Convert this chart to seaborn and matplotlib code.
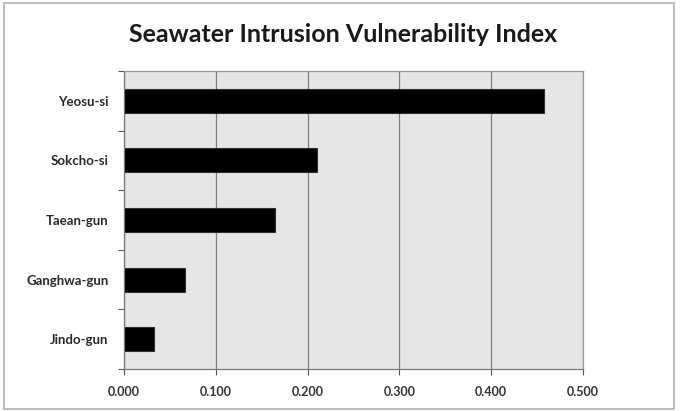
import matplotlib
matplotlib.use("Agg")
import matplotlib.pyplot as plt
import seaborn as sns
import pandas as pd
import numpy as np
from matplotlib.patches import Rectangle

regions = ["Yeosu-si", "Sokcho-si", "Taean-gun", "Ganghwa-gun", "Jindo-gun"]
index_values = [0.457, 0.210, 0.165, 0.066, 0.033]
x_ticks = [0.0, 0.1, 0.2, 0.3, 0.4, 0.5]
x_tick_labels = ["0.000", "0.100", "0.200", "0.300", "0.400", "0.500"]
title = "Seawater Intrusion Vulnerability Index"

sns.set_theme(style="white")
plt.rcParams["font.family"] = ["Lato", "DejaVu Sans"]

df = pd.DataFrame({"region": regions, "value": index_values})

fig = plt.figure(figsize=(6.82, 4.11), dpi=100)
ax = fig.add_axes([124 / 682, 1 - 369 / 411, (583 - 124) / 682, (369 - 71) / 411])

sns.barplot(data=df, x="value", y="region", orient="h", color="black",
            width=0.4, ax=ax, edgecolor="#303030", linewidth=0.8, saturation=1)

ax.set_facecolor("#e6e6e6")
ax.set_xlim(0, 0.5)
ax.set_ylim(4.5, -0.5)
ax.set_xticks(x_ticks)
ax.set_xticklabels(x_tick_labels, fontsize=9, fontweight="bold", color="#333333")
ax.set_yticks(range(len(regions)))
ax.set_yticklabels(regions, fontsize=9.5, fontweight="bold", color="#2a2a2a")
ax.set_yticks(np.arange(-0.5, len(regions), 1.0), minor=True)
ax.tick_params(axis="y", which="major", length=0, pad=11)
ax.tick_params(axis="y", which="minor", length=4, width=0.8, color="#555555", direction="out", left=True)
ax.tick_params(axis="x", which="major", length=4, width=0.8, color="#555555", direction="out", bottom=True, pad=8)
ax.xaxis.grid(True, color="#808080", linewidth=0.9)
ax.set_axisbelow(True)
ax.set_xlabel("")
ax.set_ylabel("")
for side, sp in ax.spines.items():
    sp.set_visible(True)
    sp.set_color("#999999")
    sp.set_linewidth(0.9)
ax.spines["left"].set_color("#777777")
ax.spines["bottom"].set_color("#777777")

fig.text(343 / 682, 1 - 34 / 411, title, ha="center", va="center",
         fontsize=18, fontweight="bold", color="#1a1a1a")

fig.patches.append(Rectangle((4 / 682, 2 / 411), (674 - 4) / 682, (408 - 2) / 411,
                             transform=fig.transFigure, fill=False,
                             edgecolor="#b0b0b0", linewidth=1.2))

fig.savefig("out.png", dpi=100)
